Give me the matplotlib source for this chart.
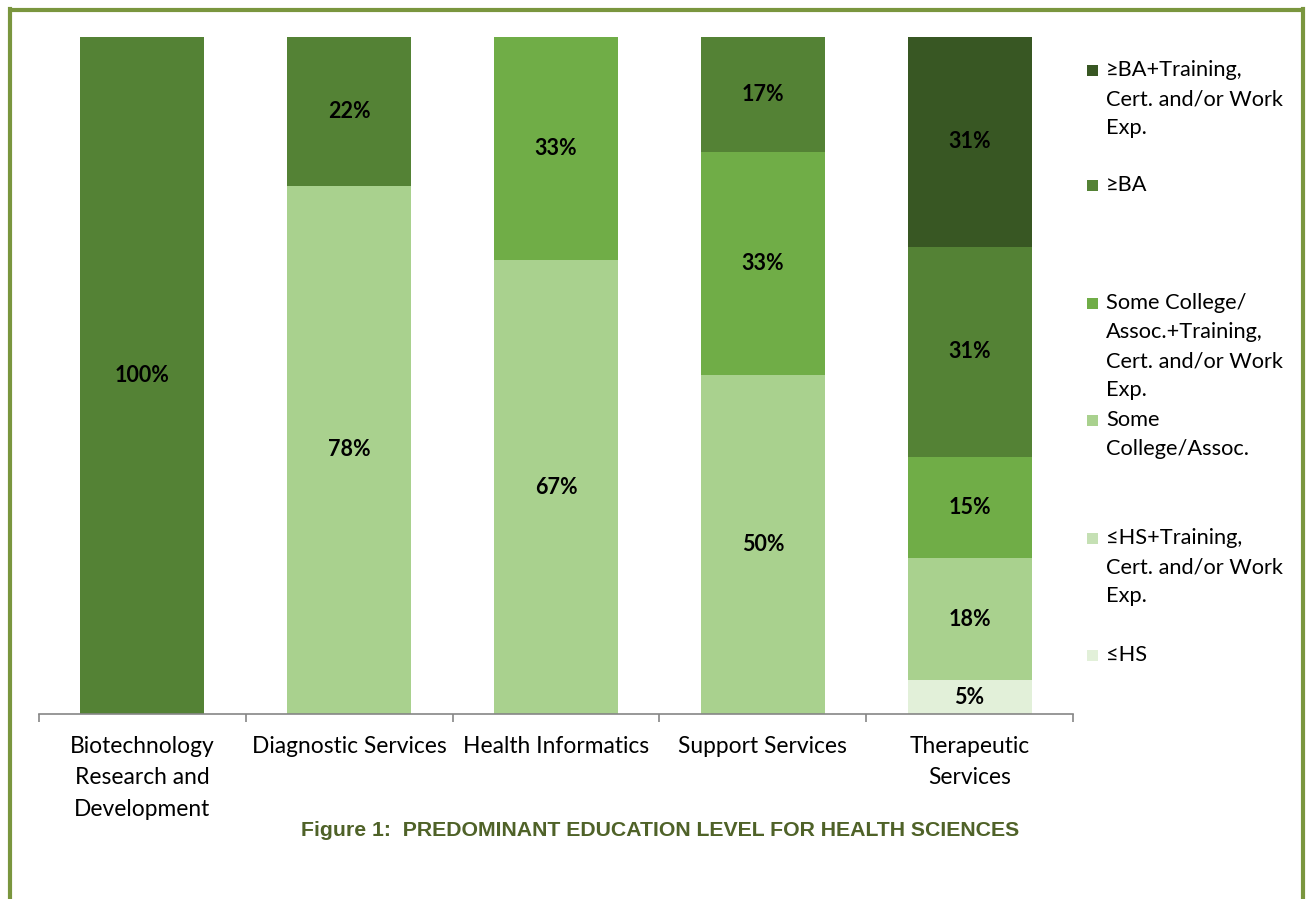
import matplotlib
matplotlib.use("Agg")
import matplotlib.pyplot as plt
from matplotlib.lines import Line2D
from matplotlib.patches import Rectangle
import numpy as np

plt.rcParams['font.family'] = ['Lato', 'DejaVu Sans']

categories = ["Biotechnology\nResearch and\nDevelopment", "Diagnostic Services",
              "Health Informatics", "Support Services", "Therapeutic\nServices"]
series_names = ["≤HS", "≤HS+Training,\nCert. and/or Work\nExp.", "Some\nCollege/Assoc.",
                "Some College/\nAssoc.+Training,\nCert. and/or Work\nExp.", "≥BA",
                "≥BA+Training,\nCert. and/or Work\nExp."]
hs = [0, 0, 0, 0, 5]
hs_training = [0, 0, 0, 0, 0]
some_college = [0, 78, 67, 50, 18]
some_college_training = [0, 0, 33, 33, 15]
ba = [100, 22, 0, 17, 31]
ba_training = [0, 0, 0, 0, 31]
series_values = [hs, hs_training, some_college, some_college_training, ba, ba_training]
colors = ["#E2F0D9", "#C5E0B4", "#A9D18E", "#70AD47", "#548235", "#385723"]

W, H = 1306, 899
fig = plt.figure(figsize=(W / 100, H / 100), dpi=100)
ax = fig.add_axes([39 / W, 1 - 714 / H, (1073 - 39) / W, (714 - 37) / H])

FS = 16.4
x = np.arange(len(categories))
bottom = np.zeros(len(categories))
for vals, col in zip(series_values, colors):
    vals = np.array(vals, dtype=float)
    ax.bar(x, vals, bottom=bottom, width=0.6, color=col, edgecolor='none')
    for xi, v, b in zip(x, vals, bottom):
        if v > 0:
            ax.text(xi, b + v / 2, f"{int(v)}%", ha='center', va='center',
                    fontsize=15.5, fontweight='bold', color='black')
    bottom += vals

ax.set_xlim(-0.5, len(categories) - 0.5)
ax.set_ylim(0, 100)
for s in ['top', 'right', 'left']:
    ax.spines[s].set_visible(False)
ax.spines['bottom'].set_color('#868686')
ax.spines['bottom'].set_linewidth(1.2)
ax.set_yticks([])
ax.set_xticks(x)
ax.set_xticklabels(categories, fontsize=FS, linespacing=1.6)
ax.tick_params(axis='x', which='major', length=0, pad=16)
ax.set_xticks(np.arange(-0.5, len(categories), 1.0), minor=True)
ax.tick_params(axis='x', which='minor', length=6, color='#868686', width=1.2)

# Legend (manual layout, top to bottom)
legend_y = [70, 185, 303, 420, 538, 655]  # pixel y of first line
for name, col, yp in zip(series_names[::-1], colors[::-1], legend_y):
    fig.patches.append(Rectangle((1087 / W, 1 - (yp + 6) / H), 11 / W, 11 / H,
                                 transform=fig.transFigure, facecolor=col,
                                 edgecolor='none'))
    for i, line in enumerate(name.split("\n")):
        fig.text(1106 / W, 1 - (yp + 29 * i) / H, line, ha='left', va='center',
                 fontsize=15.7)

fig.text(660 / W, 1 - 830 / H, "Figure 1:  PREDOMINANT EDUCATION LEVEL FOR HEALTH SCIENCES",
         ha='center', va='center', fontsize=15.3, fontweight='bold', color='#4F6228',
         family=['Liberation Sans Narrow', 'Liberation Sans', 'DejaVu Sans'])

# page border
bc = '#7A963E'
fig.add_artist(Line2D([10 / W, 1303 / W], [1 - 10 / H, 1 - 10 / H], color=bc, lw=3, transform=fig.transFigure, solid_capstyle='butt'))
fig.add_artist(Line2D([10 / W, 10 / W], [1 - 9 / H, 0], color=bc, lw=3, transform=fig.transFigure))
fig.add_artist(Line2D([1303 / W, 1303 / W], [1 - 9 / H, 0], color=bc, lw=3, transform=fig.transFigure))

fig.savefig("out.png", dpi=100)
